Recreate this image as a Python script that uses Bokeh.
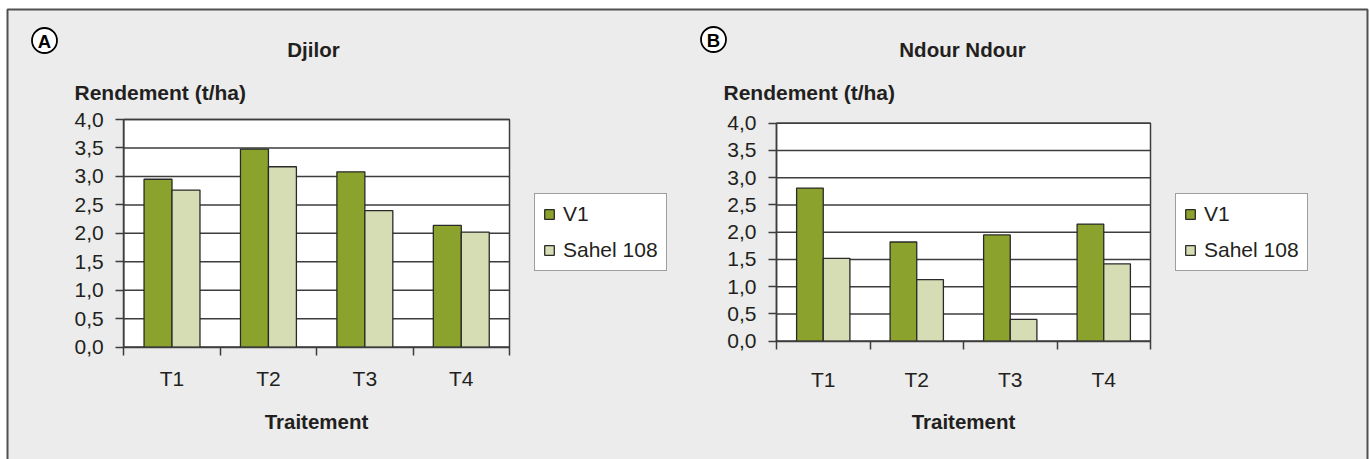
from bokeh.plotting import figure
from bokeh.models import (Range1d, FixedTicker, CustomJSTickFormatter, Label,
                          Legend, LegendItem, ColumnDataSource, LinearAxis)
from bokeh.embed import file_html
from bokeh.resources import INLINE

categories = ["T1", "T2", "T3", "T4"]
series_names = ["V1", "Sahel 108"]
djilor_v1 = [2.95, 3.48, 3.08, 2.14]
djilor_sahel = [2.76, 3.17, 2.40, 2.02]
ndour_v1 = [2.81, 1.82, 1.95, 2.15]
ndour_sahel = [1.52, 1.13, 0.40, 1.42]
y_ticks = [0.0, 0.5, 1.0, 1.5, 2.0, 2.5, 3.0, 3.5, 4.0]
Y_MAX = 4.0

FONT = "Liberation Sans"
TXT = "#231f20"
BG = "#ebeceb"
DARK = "#3d3d3d"
C_V1 = "#8ba22c"
C_SAHEL = "#d6ddb5"
WIDTH, HEIGHT = 1370, 459

# one canvas; page-pixel ranges (y downwards) for decoration and texts
p = figure(width=WIDTH, height=HEIGHT, x_range=Range1d(0, WIDTH),
           y_range=Range1d(HEIGHT, 0), x_axis_type=None, y_axis_type=None,
           min_border=0, output_backend="svg", toolbar_location=None,
           background_fill_color="white", border_fill_color="white",
           outline_line_color=None)
p.title.visible = False
p.grid.visible = False

# grey card with its frame
p.quad(left=[7], right=[1367], top=[9], bottom=[HEIGHT + 20], fill_color=BG,
       line_color="#505050", line_width=2)


def panel(name, letter, title, v1, sahel, box, letter_xy, title_xy, ylab_xy,
          legend_xy, bar_w, tick_standoff, label_standoff):
    left, right, top, bottom = box          # page pixels of the plot area
    ncat = len(categories)
    sx = (right - left) / ncat
    sy = (bottom - top) / Y_MAX
    xr, yr = "x" + name, "y" + name
    p.extra_x_ranges[xr] = Range1d(-left / sx, ncat + (WIDTH - right) / sx)
    p.extra_y_ranges[yr] = Range1d(-(HEIGHT - bottom) / sy, Y_MAX + top / sy)
    kw = dict(x_range_name=xr, y_range_name=yr)

    # plot area and gridlines
    p.quad(left=[0], right=[ncat], bottom=[0], top=[Y_MAX], fill_color="white",
           line_color=DARK, line_width=1.5, **kw)
    p.segment(x0=[0] * len(y_ticks), x1=[ncat] * len(y_ticks), y0=y_ticks,
              y1=y_ticks, line_color=DARK, line_width=1.5, **kw)

    xs = [i + 0.5 for i in range(ncat)]
    src = ColumnDataSource(dict(x1=[x - bar_w / 2 for x in xs],
                                x2=[x + bar_w / 2 for x in xs],
                                v1=v1, sahel=sahel))
    r1 = p.vbar(x="x1", top="v1", width=bar_w, source=src, fill_color=C_V1,
                line_color="#2a2a2a", line_width=1.3, **kw)
    r2 = p.vbar(x="x2", top="sahel", width=bar_w, source=src,
                fill_color=C_SAHEL, line_color="#2a2a2a", line_width=1.3, **kw)

    ya = LinearAxis(fixed_location=0, bounds=(0, Y_MAX),
                    ticker=FixedTicker(ticks=y_ticks),
                    formatter=CustomJSTickFormatter(
                        code="return tick.toFixed(1).replace('.', ',');"),
                    **kw)
    ya.major_tick_out = 8
    ya.major_tick_in = 0
    ya.minor_tick_out = 0
    ya.major_label_standoff = 12
    ya.axis_line_color = DARK
    ya.axis_line_width = 1.5
    ya.major_tick_line_color = DARK
    ya.major_tick_line_width = 1.5
    ya.major_label_text_font = FONT
    ya.major_label_text_font_size = "21px"
    ya.major_label_text_color = TXT
    p.add_layout(ya, "left")

    xa = LinearAxis(fixed_location=0, bounds=(0, ncat),
                    ticker=FixedTicker(ticks=xs,
                                       minor_ticks=list(range(ncat + 1))),
                    **kw)
    xa.major_label_overrides = {x: c for x, c in zip(xs, categories)}
    xa.major_tick_out = 0
    xa.major_tick_in = 0
    xa.minor_tick_out = 8
    xa.minor_tick_in = 0
    xa.minor_tick_line_color = DARK
    xa.minor_tick_line_width = 1.5
    xa.axis_line_color = DARK
    xa.axis_line_width = 1.5
    xa.major_label_standoff = tick_standoff
    xa.major_label_text_font = FONT
    xa.major_label_text_font_size = "21px"
    xa.major_label_text_color = TXT
    xa.axis_label = "Traitement"
    xa.axis_label_text_font = FONT
    xa.axis_label_text_font_size = "20.5px"
    xa.axis_label_text_font_style = "bold"
    xa.axis_label_text_color = TXT
    xa.axis_label_standoff = label_standoff
    p.add_layout(xa, "below")

    # circled panel letter
    p.scatter(x=[letter_xy[0]], y=[letter_xy[1]], marker="circle", size=25,
              fill_color="white", line_color="black", line_width=1.8)
    p.add_layout(Label(x=letter_xy[0], y=letter_xy[1] + 0.5, text=letter,
                       text_font=FONT, text_font_size="18.5px",
                       text_font_style="bold", text_color="black",
                       text_align="center", text_baseline="middle"))
    p.add_layout(Label(x=title_xy[0], y=title_xy[1], text=title,
                       text_font=FONT, text_font_size="20.5px",
                       text_font_style="bold", text_color=TXT,
                       text_align="center", text_baseline="middle"))
    p.add_layout(Label(x=ylab_xy[0], y=ylab_xy[1], text="Rendement (t/ha)",
                       text_font=FONT, text_font_size="21px",
                       text_font_style="bold", text_color=TXT,
                       text_align="left", text_baseline="middle"))

    legend = Legend(items=[LegendItem(label=series_names[0], renderers=[r1]),
                           LegendItem(label=series_names[1], renderers=[r2])],
                    location=(legend_xy[0], HEIGHT - legend_xy[1]),
                    padding=8, spacing=12,
                    glyph_width=12, glyph_height=12, label_standoff=8,
                    label_text_font=FONT, label_text_font_size="21px",
                    label_text_color=TXT, border_line_color=DARK,
                    border_line_width=1.5, background_fill_color="white",
                    background_fill_alpha=1.0, margin=0)
    p.add_layout(legend)


panel("A", "A", "Djilor", djilor_v1, djilor_sahel,
      box=(123.3, 509, 119, 346.7), letter_xy=(44, 40), title_xy=(313, 49),
      ylab_xy=(74, 92), legend_xy=(534, 271), bar_w=0.29,
      tick_standoff=12, label_standoff=16)
panel("B", "B", "Ndour Ndour", ndour_v1, ndour_sahel,
      box=(776, 1150, 122.7, 340.7), letter_xy=(713, 39), title_xy=(962, 49),
      ylab_xy=(723, 92), legend_xy=(1175, 271), bar_w=0.285,
      tick_standoff=19, label_standoff=15)

open("out.html", "w").write(file_html(p, INLINE))
